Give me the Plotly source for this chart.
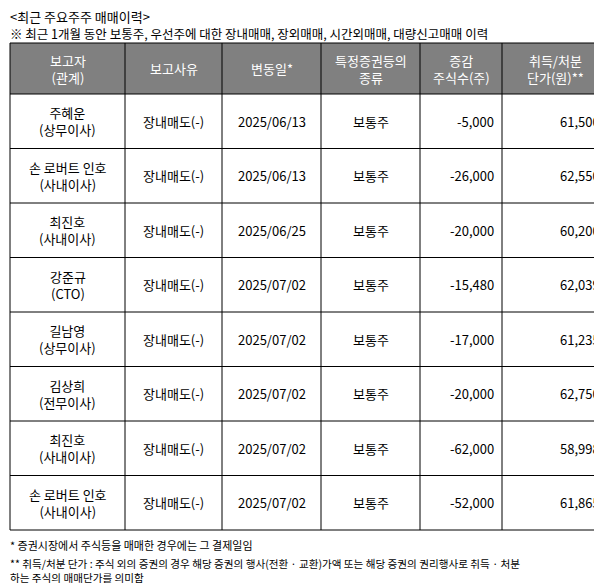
import plotly.graph_objects as go

W, H = 602, 583

headers = ["보고자<br>(관계)", "보고사유", "변동일*", "특정증권등의<br>종류", "증감<br>주식수(주)", "취득/처분<br>단가(원)**"]
reporters = ["주혜운<br>(상무이사)", "손 로버트 인호<br>(사내이사)", "최진호<br>(사내이사)", "강준규<br>(CTO)",
             "길남영<br>(상무이사)", "김상희<br>(전무이사)", "최진호<br>(사내이사)", "손 로버트 인호<br>(사내이사)"]
reasons = ["장내매도(-)"] * 8
dates = ["2025/06/13", "2025/06/13", "2025/06/25", "2025/07/02", "2025/07/02", "2025/07/02", "2025/07/02", "2025/07/02"]
kinds = ["보통주"] * 8
changes = ["-5,000", "-26,000", "-20,000", "-15,480", "-17,000", "-20,000", "-62,000", "-52,000"]
prices = ["61,500", "62,550", "60,200", "62,039", "61,235", "62,750", "58,998", "61,865"]

font = "Noto Sans CJK KR"
col_x = [2, 117, 214, 313, 412, 494, 600]
head_top, head_bot, row_h = 35, 86, 54.5
aligns = ["center", "center", "center", "center", "right", "right"]
columns = [reporters, reasons, dates, kinds, changes, prices]

fig = go.Figure()
n = len(reporters)
bottom = head_bot + n * row_h
# header background
fig.add_shape(type="rect", x0=col_x[0], x1=col_x[-1], y0=head_top, y1=head_bot,
              fillcolor="#808080", line=dict(width=0), layer="below")
# grid lines
for x in col_x:
    fig.add_shape(type="line", x0=x, x1=x, y0=head_top, y1=bottom, line=dict(color="black", width=1))
for i in range(n + 2):
    y = head_top if i == 0 else head_bot + (i - 1) * row_h
    fig.add_shape(type="line", x0=col_x[0], x1=col_x[-1], y0=y, y1=y, line=dict(color="black", width=1))


def cell_text(text, c, yc, color):
    if aligns[c] == "right":
        x, anchor = col_x[c + 1] - 6, "right"
    else:
        x, anchor = (col_x[c] + col_x[c + 1]) / 2, "center"
    fig.add_annotation(text=text, x=x, y=yc, xanchor=anchor, yanchor="middle", showarrow=False,
                       align=anchor, font=dict(family=font, size=13, color=color))


for c, h in enumerate(headers):
    x, anchor = (col_x[c] + col_x[c + 1]) / 2, "center"
    fig.add_annotation(text=h, x=x, y=(head_top + head_bot) / 2, xanchor="center", yanchor="middle",
                       showarrow=False, font=dict(family=font, size=13, color="white"))
for c, col in enumerate(columns):
    for r, v in enumerate(col):
        cell_text(v, c, head_bot + (r + 0.5) * row_h, "black")

notes = [
    (8, "<최근 주요주주 매매이력>", 13),
    (25, "※ 최근 1개월 동안 보통주, 우선주에 대한 장내매매, 장외매매, 시간외매매, 대량신고매매 이력", 12.5),
    (537, "* 증권시장에서 주식등을 매매한 경우에는 그 결제일임", 11),
    (555, "** 취득/처분 단가 : 주식 외의 증권의 경우 해당 증권의 행사(전환 · 교환)가액 또는 해당 증권의 권리행사로 취득 · 처분", 10.6),
    (569, "하는 주식의 매매단가를 의미함", 10.6),
]
for y, t, s in notes:
    fig.add_annotation(text=t, x=0, y=y, xanchor="left", yanchor="middle", showarrow=False,
                       font=dict(family=font, size=s, color="black"))

fig.update_xaxes(range=[0, W], visible=False)
fig.update_yaxes(range=[H, 0], visible=False)
fig.update_layout(width=W, height=H, margin=dict(l=0, r=0, t=0, b=0),
                  paper_bgcolor="white", plot_bgcolor="white")
fig.write_html("out.html")
